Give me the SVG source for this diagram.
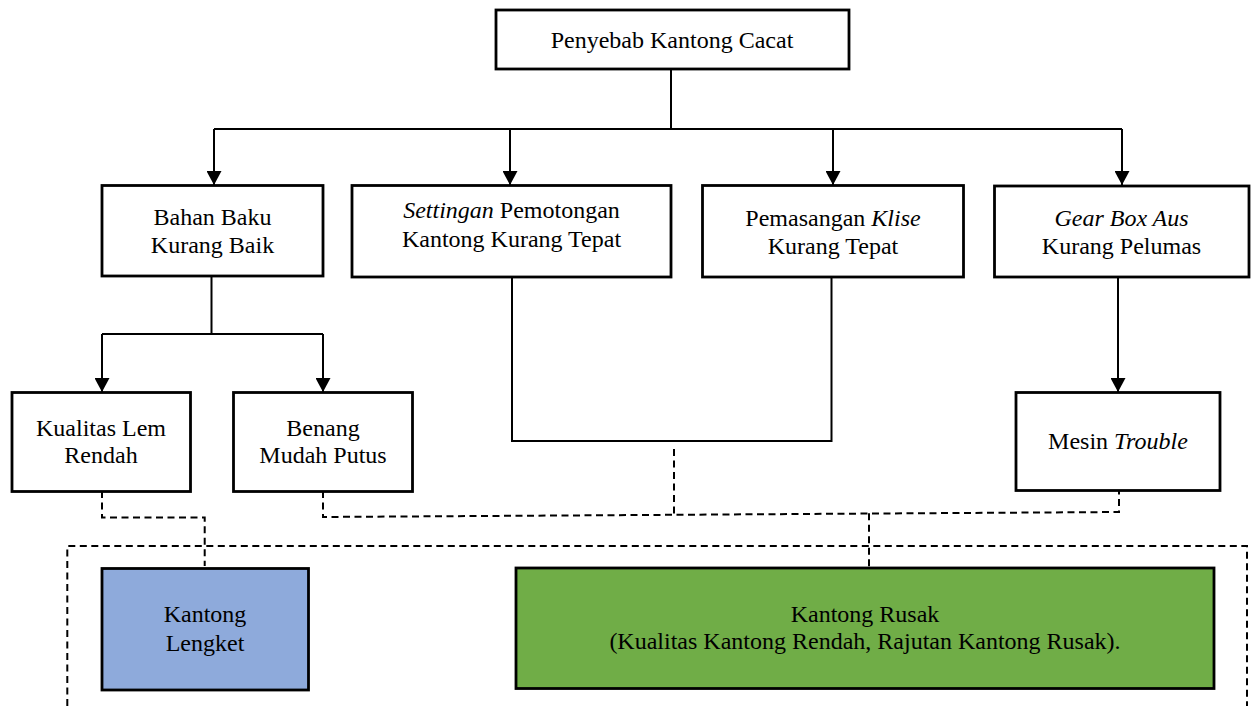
<svg xmlns="http://www.w3.org/2000/svg" width="1252" height="706" viewBox="0 0 1252 706">
<style>
.box{fill:#fff;stroke:#000;stroke-width:2.8}
.blue{fill:#8EAADB;stroke:#000;stroke-width:2.8}
.green{fill:#70AD47;stroke:#000;stroke-width:2.8}
.ln{fill:none;stroke:#000;stroke-width:2}
.dash{fill:none;stroke:#000;stroke-width:2;stroke-dasharray:7,4.5}
text{font-size:24px;fill:#000;text-anchor:middle}
.i{font-style:italic}
</style>
<defs>
<marker id="arr" viewBox="0 0 14 15" refX="14" refY="7.5" markerWidth="14" markerHeight="15" markerUnits="userSpaceOnUse" orient="auto">
<path d="M0,0 L14,7.5 L0,15 z" fill="#000"/>
</marker>
</defs>
<g id="connectors">
<path class="ln" d="M671,69 V129 M214,129 H1122"/>
<path class="ln" d="M214,129 V185" marker-end="url(#arr)"/>
<path class="ln" d="M510,129 V185" marker-end="url(#arr)"/>
<path class="ln" d="M833,129 V185" marker-end="url(#arr)"/>
<path class="ln" d="M1122,129 V185" marker-end="url(#arr)"/>
<path class="ln" d="M211.5,276 V334 M102,334 H323"/>
<path class="ln" d="M102,334 V392" marker-end="url(#arr)"/>
<path class="ln" d="M323,334 V392" marker-end="url(#arr)"/>
<path class="ln" d="M1118,277 V392" marker-end="url(#arr)"/>
<path class="ln" d="M512,277 V441 H831.5 V277"/>
<path class="dash" d="M674,449 V514.8"/>
<path class="dash" d="M102,491 V517.5 H204.7 V566"/>
<path class="dash" d="M323,491 V517 L1119,512 V491"/>
<path class="dash" d="M869,513.3 V568"/>
<path class="dash" d="M67.3,706 V546 H1247 V706"/>
</g>
<g id="n-root"><rect class="box" x="496" y="10" width="353" height="59"/><text font-family="Liberation Serif, serif" x="672" y="48">Penyebab Kantong Cacat</text></g>
<g id="n-bahan"><rect class="box" x="102" y="185.5" width="221" height="90.5"/><text font-family="Liberation Serif, serif" x="212.5" y="225">Bahan Baku</text><text font-family="Liberation Serif, serif" x="212.5" y="253">Kurang Baik</text></g>
<g id="n-setting"><rect class="box" x="352" y="185.5" width="319" height="91.5"/><text font-family="Liberation Serif, serif" x="511.5" y="218"><tspan class="i">Settingan</tspan> Pemotongan</text><text font-family="Liberation Serif, serif" x="511.5" y="247">Kantong Kurang Tepat</text></g>
<g id="n-klise"><rect class="box" x="702.5" y="185.5" width="261" height="91.5"/><text font-family="Liberation Serif, serif" x="833" y="226">Pemasangan <tspan class="i">Klise</tspan></text><text font-family="Liberation Serif, serif" x="833" y="254">Kurang Tepat</text></g>
<g id="n-gear"><rect class="box" x="994.5" y="186" width="254.5" height="91"/><text font-family="Liberation Serif, serif" x="1121.5" y="226"><tspan class="i">Gear Box Aus</tspan></text><text font-family="Liberation Serif, serif" x="1121.5" y="254">Kurang Pelumas</text></g>
<g id="n-lem"><rect class="box" x="12" y="392.5" width="178.5" height="99"/><text font-family="Liberation Serif, serif" x="101" y="436">Kualitas Lem</text><text font-family="Liberation Serif, serif" x="101" y="463">Rendah</text></g>
<g id="n-benang"><rect class="box" x="233.5" y="392.5" width="179" height="99"/><text font-family="Liberation Serif, serif" x="323" y="436">Benang</text><text font-family="Liberation Serif, serif" x="323" y="463">Mudah Putus</text></g>
<g id="n-mesin"><rect class="box" x="1016" y="392.5" width="204" height="98"/><text font-family="Liberation Serif, serif" x="1118" y="449">Mesin <tspan class="i">Trouble</tspan></text></g>
<g id="n-lengket"><rect class="blue" x="102" y="568.5" width="206.5" height="121.5"/><text font-family="Liberation Serif, serif" x="205" y="622">Kantong</text><text font-family="Liberation Serif, serif" x="205" y="651">Lengket</text></g>
<g id="n-rusak"><rect class="green" x="516" y="568" width="698" height="120.5"/><text font-family="Liberation Serif, serif" x="865" y="622">Kantong Rusak</text><text font-family="Liberation Serif, serif" x="865" y="649">(Kualitas Kantong Rendah, Rajutan Kantong Rusak).</text></g>
</svg>
